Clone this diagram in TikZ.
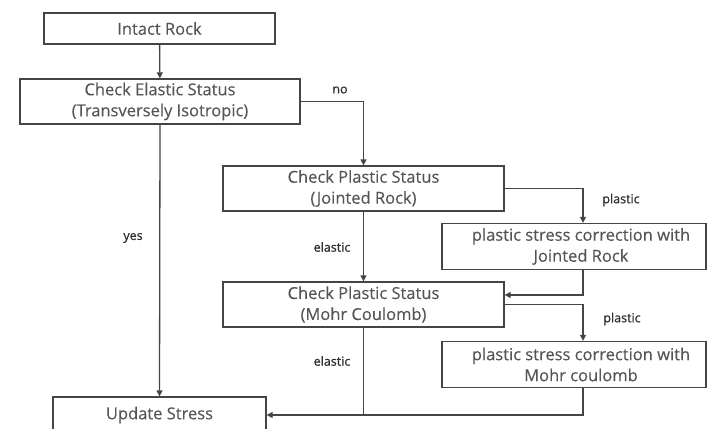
\documentclass[tikz,border=0pt]{standalone}
\usepackage{fontspec}
\setmainfont[FakeBold=0.15]{Open Sans}
\newfontfamily\labfont[FakeBold=0.8]{Open Sans}
\usetikzlibrary{arrows.meta}
\definecolor{txt}{HTML}{555555}
\definecolor{ln}{HTML}{454545}
\definecolor{lab}{HTML}{303030}
\begin{document}
\begin{tikzpicture}[x=1pt,y=-1pt,
  box/.style={draw=ln, line width=1.3pt, text=txt, align=center, inner sep=0pt,
    font=\fontsize{16.5}{21}\selectfont},
  arr/.style={draw=ln, line width=1.3pt, -{Triangle[length=6pt,width=6pt]}},
  ln/.style={draw=ln, line width=1.3pt},
  lbl/.style={text=lab, font=\labfont\fontsize{12.5}{14}\selectfont, inner sep=0pt}]
\fill[white] (0,0) rectangle (708,428);
\useasboundingbox (0,0) rectangle (708,428);
\node[box, minimum width=231pt, minimum height=31pt] (intact) at (159.5,28.5) {Intact Rock};
\node[box, minimum width=280pt, minimum height=45pt] (elas) at (160,101.5) {Check Elastic Status\\(Transversely Isotropic)};
\node[box, minimum width=281pt, minimum height=45pt] (pj) at (363.5,188.5) {Check Plastic Status\\(Jointed Rock)};
\node[box, minimum width=264pt, minimum height=46pt] (cj) at (574,246.5) {\hspace*{14pt}plastic stress correction with\\\hspace*{14pt}Jointed Rock};
\node[box, minimum width=281pt, minimum height=45pt] (pmc) at (363.5,304.5) {Check Plastic Status\\(Mohr Coulomb)};
\node[box, minimum width=264pt, minimum height=46pt] (cmc) at (574,364.5) {\hspace*{14pt}plastic stress correction with\\\hspace*{14pt}Mohr coulomb};
\node[box, minimum width=213pt, minimum height=36pt] (upd) at (159.5,415) {Update Stress};

\draw[arr] (intact) -- (elas);
\draw[arr] (elas.east) -| (pj.north);
\draw[arr] (elas.south) -- (upd.north);
\draw[arr] (pj.east) -| ([xshift=9pt]cj.north);
\draw[arr] (pj) -- (pmc);
\draw[arr] ([xshift=9pt]cj.south) |- ([yshift=9.5pt]pmc.east);
\draw[arr] (pmc.east) -| ([xshift=9pt]cmc.north);
\draw[arr] ([xshift=9pt]cmc.south) |- (upd.east);
\draw[ln] (pmc.south) -- (pmc.south |- upd.east);

\node[lbl] (lno) at (340,90) {no};
\node[lbl] (lyes) at (133,238) {yes};
\node[lbl] (lel1) at (332,247) {elastic};
\node[lbl] (lpl1) at (621,200) {plastic};
\node[lbl] (lpl2) at (622,319) {plastic};
\node[lbl] (lel2) at (332,361) {elastic};
\end{tikzpicture}
\end{document}
